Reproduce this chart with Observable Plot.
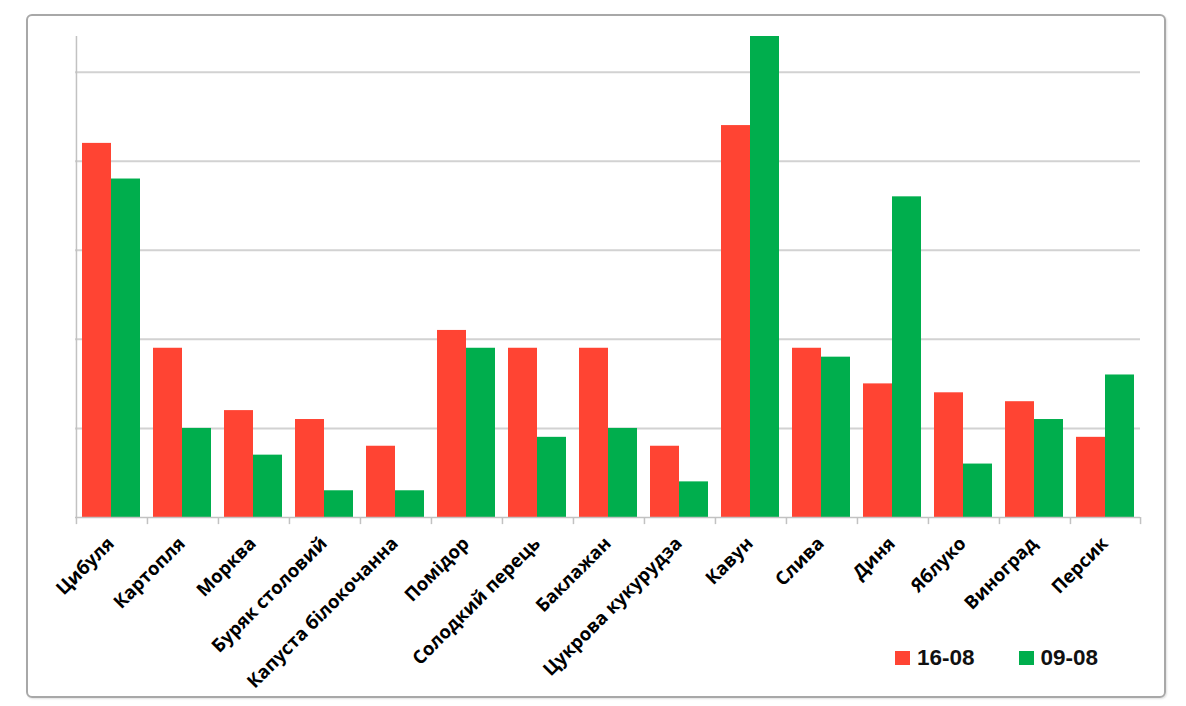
<!DOCTYPE html>
<html><head><meta charset="utf-8">
<script src="https://cdn.jsdelivr.net/npm/d3@7"></script>
<script src="https://cdn.jsdelivr.net/npm/@observablehq/plot@0.6"></script>
<style>
body{margin:0;background:#fff;}
#wrap{position:relative;width:1186px;height:706px;overflow:hidden;}
#box{position:absolute;left:26px;top:14px;width:1140px;height:684px;box-sizing:border-box;border:2.5px solid #a8a8a8;border-radius:6px;box-shadow:1px 1px 2px rgba(0,0,0,0.12);}
#chart{position:absolute;left:0;top:0;}
#legend{position:absolute;left:895px;top:645px;display:flex;align-items:center;font:bold 22.5px "Liberation Sans",sans-serif;color:#111;}
#legend .sw{display:inline-block;width:15px;height:14px;margin-right:7px;}
#legend .it{display:flex;align-items:center;margin-right:44px;}
</style>
</head><body>
<div id="wrap"><div id="box"></div><div id="chart"></div><div id="legend"></div></div>
<script>
const categories = ["Цибуля","Картопля","Морква","Буряк столовий","Капуста білокочанна","Помідор","Солодкий перець","Баклажан","Цукрова кукурудза","Кавун","Слива","Диня","Яблуко","Виноград","Персик"];
const seriesNames = ["16-08","09-08"];
const values1608 = [42,19,12,11,8,21,19,19,8,44,19,15,14,13,9];
const values0908 = [38,10,7,3,3,19,9,10,4,54,18,36,6,11,16];
const gridTicks = [10,20,30,40,50];
const colors = ["#FF4433","#00AE4D"];

const data = categories.flatMap((c,i)=>[
  {cat:c, series:seriesNames[0], value:values1608[i]},
  {cat:c, series:seriesNames[1], value:values0908[i]}
]);

const W = 1186, H = 706, ML = 74, MR = 46, MT = 36, MB = 189;
const padOuter = 0.185;
const fxStep = (W - ML - MR) / categories.length;
const xStep = fxStep / (2 + 2 * padOuter);
const edgeOff = padOuter * xStep + xStep / 2;
const axisColor = "#c2c2c2";

const chart = Plot.plot({
  width: W, height: H, marginLeft: ML, marginRight: MR, marginTop: MT, marginBottom: MB,
  style: {fontFamily: "'Open Sans', sans-serif", background: "transparent"},
  fx: {domain: categories, padding: 0, label: null, axis: null},
  x: {domain: seriesNames, paddingInner: 0, paddingOuter: padOuter, axis: null},
  y: {domain: [0, 54], axis: null},
  color: {domain: seriesNames, range: colors},
  marks: [
    Plot.gridY(gridTicks, {stroke: "#d2d2d2", strokeOpacity: 1, strokeWidth: 2}),
    Plot.barY(data, {fx: "cat", x: "series", y: "value", fill: "series"}),
    Plot.ruleY([0], {stroke: axisColor, strokeWidth: 1.5}),
    Plot.ruleX([categories[0]], {fx: d => d, x: () => seriesNames[0], y1: () => 0, y2: () => 54, dx: -edgeOff, stroke: axisColor, strokeWidth: 1.5}),
    Plot.ruleX(categories, {fx: d => d, x: () => seriesNames[0], y1: () => 0, y2: () => -0.8, dx: -edgeOff, stroke: axisColor, strokeWidth: 1.5}),
    Plot.ruleX([categories[categories.length-1]], {fx: d => d, x: () => seriesNames[1], y1: () => 0, y2: () => -0.8, dx: edgeOff, stroke: axisColor, strokeWidth: 1.5}),
    Plot.axisFx({anchor: "bottom", tickSize: 0, tickPadding: 23, tickRotate: -45, fontSize: 18.5, fontWeight: "bold", fill: "#000", label: null})
  ]
});
document.getElementById("chart").appendChild(chart);

const legend = document.getElementById("legend");
seriesNames.forEach((s,i)=>{
  const it = document.createElement("div"); it.className = "it";
  const sw = document.createElement("span"); sw.className = "sw"; sw.style.background = colors[i];
  const tx = document.createElement("span"); tx.textContent = s;
  it.appendChild(sw); it.appendChild(tx); legend.appendChild(it);
});
</script>
</body></html>
